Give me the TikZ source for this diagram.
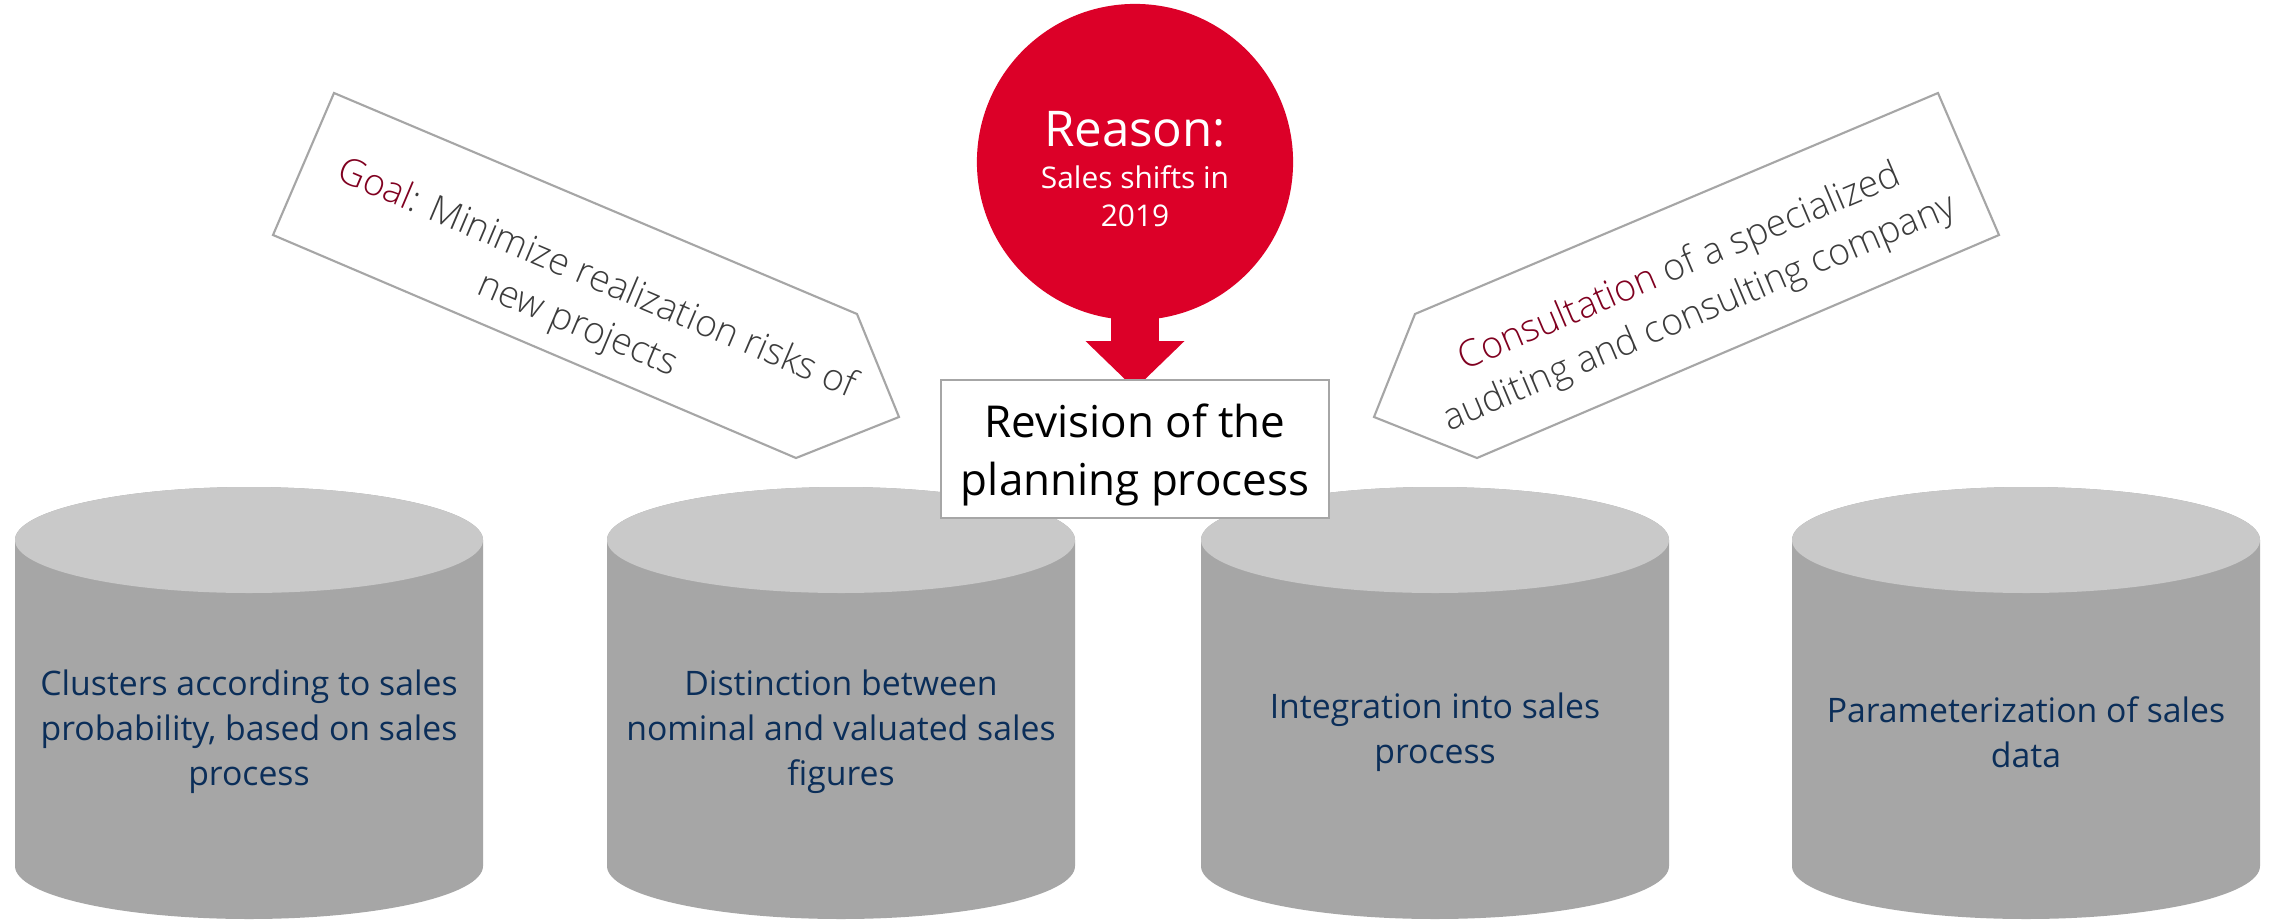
\documentclass[tikz,border=0pt]{standalone}
\usepackage{fontspec}
\setmainfont{Open Sans}
\IfFontExistsTF{Open Sans Light}
  {\newfontfamily\lightfont{Open Sans Light}}
  {\newfontfamily\lightfont{Open Sans}}
\usepackage{xcolor}
\usetikzlibrary{arrows.meta,positioning,backgrounds}

\definecolor{drumbody}{HTML}{A6A6A6}
\definecolor{drumtop}{HTML}{C9C9C9}
\definecolor{signalred}{HTML}{DC0028}
\definecolor{wine}{HTML}{800020}
\definecolor{navy}{HTML}{0B2E59}
\definecolor{ink}{HTML}{3C3C3C}

\begin{document}
\begin{tikzpicture}[x=0.01cm, y=0.01cm,
  drum/.style={align=center, text=navy, font=\fontsize{9.6}{12.8}\selectfont},
  banner/.style={draw=drumbody, line width=0.6pt, fill=white},
  tag/.style={align=center, text=ink, font=\lightfont\fontsize{10.6}{14.2}\selectfont},
  hub/.style={circle, fill=signalred, minimum size=3.16cm, inner sep=0pt, text=white, align=center, font=\fontsize{8.5}{10.8}\selectfont},
  revbox/.style={draw=drumbody, line width=0.6pt, fill=white, minimum width=3.88cm, minimum height=1.33cm, align=center, font=\fontsize{12.5}{16.5}\selectfont},
  pointer/.style={signalred, line width=4.8mm, -{Triangle[length=4.8mm, width=9.6mm]}}
]
\useasboundingbox (0,0) rectangle (2275,923);

% four storage drums
\foreach \cx in {249,841,1435,2026} {
  \fill[drumbody] (\cx-234,383) -- (\cx-234,57)
    arc[start angle=180, end angle=360, x radius=234, y radius=53]
    -- (\cx+234,383)
    arc[start angle=0, end angle=180, x radius=234, y radius=53] -- cycle;
  \fill[drumtop] (\cx,383) ellipse[x radius=234, y radius=53];
}
\node[drum] (clusters) at (249,191) {Clusters according to sales\\probability, based on sales\\process};
\node[drum] (distinction) at (841,191) {Distinction between\\nominal and valuated sales\\figures};
\node[drum] (integration) at (1435,191) {Integration into sales\\process};
\node[drum] (parameters) at (2026,191) {Parameterization of sales\\data};

% the two side banners
\draw[banner] (334,830) -- (857,609) -- (899,506) -- (796,465) -- (273,688) -- cycle;
\draw[banner] (1938,830) -- (1415,609) -- (1374,506) -- (1477,465) -- (1999,688) -- cycle;
\node[tag, rotate=-23] (goal) at (587,620) {\textcolor{wine}{Goal}: Minimize realization risks of\\new projects};
\node[tag, rotate=23] (consult) at (1690,632) {\textcolor{wine}{Consultation} of a specialized\\auditing and consulting company};

% reason on top, revision box below it
\node[hub] (reason) at (1135,761) {{\fontsize{14}{14}\selectfont\rule{0pt}{14pt}Reason:}\\[1.2pt]Sales shifts in\\2019};
\node[revbox] (revision) at (1135,474) {\rule{0pt}{13pt}Revision of the\\planning process};

\begin{scope}[on background layer]
  \fill[white] (0,0) rectangle (2275,923);
  \draw[pointer, shorten <=-0.05cm, shorten >=-0.1cm] (reason) -- (revision);
\end{scope}
\end{tikzpicture}
\end{document}
